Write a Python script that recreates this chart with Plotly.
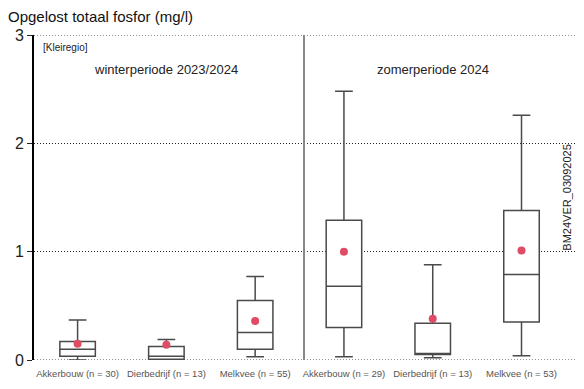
import plotly.graph_objects as go

labels = ["Akkerbouw (n = 30)", "Dierbedrijf (n = 13)", "Melkvee (n = 55)",
          "Akkerbouw (n = 29)", "Dierbedrijf (n = 13)", "Melkvee (n = 53)"]
positions = [1, 2, 3, 4, 5, 6]
lower = [0.0, 0.0, 0.03, 0.03, 0.02, 0.04]
q1 = [0.034, 0.006, 0.10, 0.30, 0.05, 0.35]
median = [0.10, 0.035, 0.255, 0.68, 0.06, 0.79]
q3 = [0.17, 0.125, 0.55, 1.29, 0.34, 1.38]
upper = [0.37, 0.19, 0.77, 2.48, 0.88, 2.26]
means = [0.15, 0.14, 0.36, 1.00, 0.38, 1.01]

fig = go.Figure()
fig.add_trace(go.Box(
    x=positions, q1=q1, median=median, q3=q3,
    lowerfence=lower, upperfence=upper,
    width=0.4, whiskerwidth=0.5,
    fillcolor="white", line=dict(color="#4a4a4a", width=1.5),
    boxpoints=False, showlegend=False, hoverinfo="skip"))
fig.add_trace(go.Scatter(
    x=positions, y=means, mode="markers",
    marker=dict(color="#e04b66", size=8), showlegend=False))

fig.add_shape(type="line", xref="x", yref="paper", x0=3.55, x1=3.55, y0=0, y1=1,
              line=dict(color="#888888", width=2))
fig.add_shape(type="line", xref="paper", yref="paper", x0=1, x1=1, y0=0, y1=1,
              line=dict(color="black", width=1.5))
for yv in [0, 3]:
    fig.add_shape(type="line", xref="paper", yref="y", x0=0, x1=1, y0=yv, y1=yv,
                  line=dict(color="#222", width=1, dash="1px,2px"), layer="below")

fig.add_annotation(text="[Kleiregio]", xref="paper", yref="paper", x=0.013, y=0.985,
                   xanchor="left", yanchor="top", showarrow=False,
                   font=dict(size=10, color="#222"))
fig.add_annotation(text="winterperiode 2023/2024", xref="x", yref="paper", x=2.0, y=0.895,
                   xanchor="center", yanchor="middle", showarrow=False,
                   font=dict(size=13, color="#222"))
fig.add_annotation(text="zomerperiode 2024", xref="x", yref="paper", x=5.0, y=0.895,
                   xanchor="center", yanchor="middle", showarrow=False,
                   font=dict(size=13, color="#222"))
fig.add_annotation(text="BM24VER_03092025", xref="paper", yref="paper", x=0.98, y=0.5,
                   textangle=-90, xanchor="center", yanchor="middle", showarrow=False,
                   font=dict(size=11, color="#222"))

fig.update_layout(
    width=576, height=381,
    margin=dict(l=21, r=7, t=27, b=29),
    plot_bgcolor="white", paper_bgcolor="white",
    font=dict(family="Liberation Sans, Arial, sans-serif", color="#222"),
    title=dict(text="Opgelost totaal fosfor (mg/l)", x=0.0, xanchor="left",
               y=0.99, yanchor="top", font=dict(size=15, color="#111")),
    xaxis=dict(range=[0.509, 6.625], tickvals=positions, ticktext=labels,
               tickfont=dict(size=9.5, color="#555"), showgrid=False, zeroline=False,
               ticks="outside", ticklen=5, tickcolor="rgba(0,0,0,0)",
               showline=False, fixedrange=True),
    yaxis=dict(range=[0, 3], tickvals=[0, 1, 2, 3], tickfont=dict(size=16, color="#222"),
               showgrid=True, griddash="1px,2px", gridcolor="#222", gridwidth=1,
               zeroline=False, showline=True, linecolor="black", linewidth=2,
               ticks="outside", ticklen=5, tickcolor="#222"),
)

fig.write_html("out.html")
